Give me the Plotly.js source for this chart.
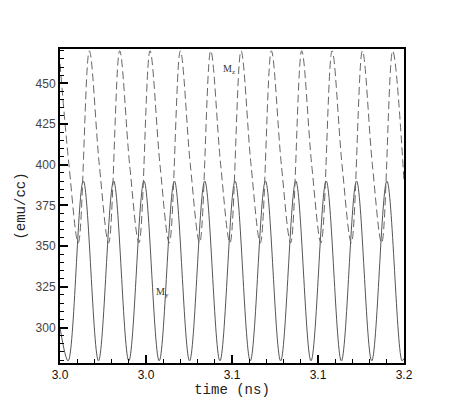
<!DOCTYPE html>
<html>
<head>
<meta charset="utf-8">
<script src="https://cdn.plot.ly/plotly-3.0.1.min.js"></script>
<style>
  html, body { margin: 0; padding: 0; background: #fff; }
  #chart { width: 460px; height: 409px; }
</style>
</head>
<body>
<div id="chart"></div>
<script>
// M_y (solid): minima and maxima
var myTime = [3.0, 3.00472, 3.01355, 3.02237, 3.03120, 3.04002, 3.04885, 3.05767, 3.06650,
  3.07533, 3.08415, 3.09298, 3.10180, 3.11063, 3.11945, 3.12828, 3.13710, 3.14593,
  3.15476, 3.16358, 3.17241, 3.18123, 3.19006, 3.19888, 3.2];
var myValue = [300, 279.5, 390, 279.5, 390, 279.5, 390, 279.5, 390,
  279.5, 390, 279.5, 390, 279.5, 390, 279.5, 390, 279.5,
  390, 279.5, 390, 279.5, 390, 279.5, 281];

// M_z (dashed): peak, point on the falling side, minimum
var mzTime = [3.0, 3.00521, 3.01064, 3.01704, 3.02285, 3.02828, 3.03468, 3.04049, 3.04592,
  3.05232, 3.05813, 3.06356, 3.06996, 3.07577, 3.08120, 3.08760, 3.09341, 3.09884,
  3.10524, 3.11105, 3.11648, 3.12288, 3.12869, 3.13412, 3.14052, 3.14633, 3.15176,
  3.15816, 3.16397, 3.16940, 3.17580, 3.18161, 3.18704, 3.19343, 3.2];
var mzValue = [462, 400, 352, 470, 400, 352, 470, 400, 352,
  470, 400, 352, 470, 400, 352, 470, 400, 352,
  470, 400, 352, 470, 400, 352, 470, 400, 352,
  470, 400, 352, 470, 400, 352, 470, 390];

var xTickVals = [3.0, 3.05, 3.1, 3.15, 3.2];
var xTickText = ['3.0', '3.0', '3.1', '3.1', '3.2'];
var yTickVals = [300, 325, 350, 375, 400, 425, 450];

var traceMy = {
  x: myTime,
  y: myValue,
  type: 'scatter',
  mode: 'lines',
  name: 'My',
  line: { color: '#555', width: 1, shape: 'spline', smoothing: 1 },
  hoverinfo: 'none'
};

var traceMz = {
  x: mzTime,
  y: mzValue,
  type: 'scatter',
  mode: 'lines',
  name: 'Mz',
  line: { color: '#666', width: 1, dash: '8px,4px', shape: 'spline', smoothing: 1 },
  hoverinfo: 'none'
};

var layout = {
  width: 460,
  height: 409,
  margin: { l: 60, r: 56, t: 49, b: 46 },
  showlegend: false,
  paper_bgcolor: '#fff',
  plot_bgcolor: '#fff',
  xaxis: {
    range: [3.0, 3.2],
    tickmode: 'array',
    tickvals: xTickVals,
    ticktext: xTickText,
    ticks: 'inside',
    ticklen: 8,
    tickwidth: 2,
    tickcolor: '#000',
    minor: { dtick: 0.01, tick0: 3.0, ticks: 'inside', ticklen: 4, tickwidth: 1, tickcolor: '#000' },
    showgrid: false,
    zeroline: false,
    showline: true,
    mirror: true,
    linecolor: '#000',
    linewidth: 2,
    tickfont: { family: 'Liberation Sans, Arial, sans-serif', size: 12, color: '#111' },
    title: {
      text: 'time (ns)',
      font: { family: 'Liberation Mono, Courier New, monospace', size: 14, color: '#222' },
      standoff: 2
    }
  },
  yaxis: {
    range: [278.2, 471.1],
    tickmode: 'array',
    tickvals: yTickVals,
    ticks: 'inside',
    ticklen: 8,
    tickwidth: 2,
    tickcolor: '#000',
    minor: { dtick: 5, tick0: 0, ticks: 'inside', ticklen: 4, tickwidth: 1, tickcolor: '#000' },
    showgrid: false,
    zeroline: false,
    showline: true,
    mirror: true,
    linecolor: '#000',
    linewidth: 2,
    tickfont: { family: 'Liberation Sans, Arial, sans-serif', size: 12, color: '#444' },
    title: {
      text: '(emu/cc)',
      font: { family: 'Liberation Mono, Courier New, monospace', size: 14, color: '#222' },
      standoff: 7
    }
  },
  annotations: [
    {
      x: 3.0935, y: 458.8, xref: 'x', yref: 'y',
      text: 'M<sub>z</sub>', showarrow: false, xanchor: 'left', yanchor: 'middle',
      font: { family: 'Liberation Serif, Times New Roman, serif', size: 10, color: '#333' }
    },
    {
      x: 3.0545, y: 321.7, xref: 'x', yref: 'y',
      text: 'M<sub>y</sub>', showarrow: false, xanchor: 'left', yanchor: 'middle',
      font: { family: 'Liberation Serif, Times New Roman, serif', size: 10, color: '#333' }
    }
  ]
};

Plotly.newPlot('chart', [traceMy, traceMz], layout, { displayModeBar: false, staticPlot: true });
</script>
</body>
</html>
